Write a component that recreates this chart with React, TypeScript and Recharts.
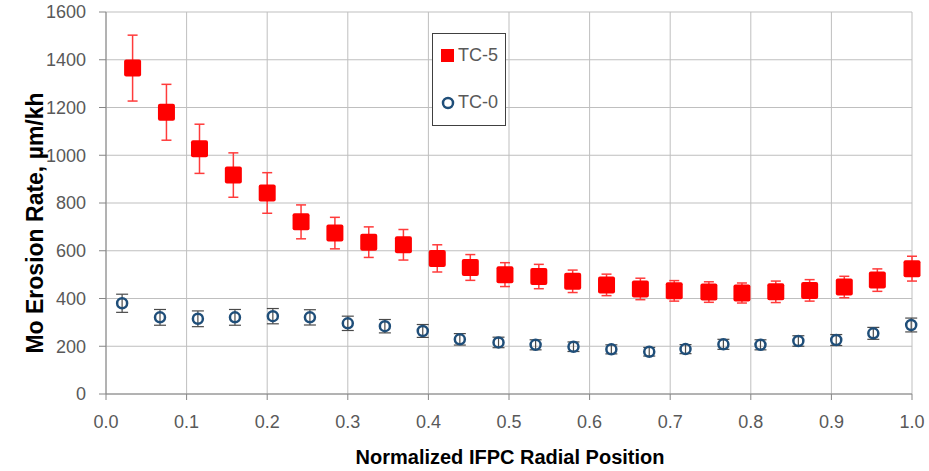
import React from 'react';
import {
  ScatterChart,
  Scatter,
  XAxis,
  YAxis,
  CartesianGrid,
  ErrorBar,
  Legend,
  Label,
} from 'recharts';

// TC-5 series (red squares)
const tc5X = [0.033, 0.075, 0.116, 0.158, 0.2, 0.242, 0.284, 0.326, 0.369, 0.411, 0.452, 0.495,
  0.537, 0.579, 0.621, 0.663, 0.705, 0.748, 0.789, 0.831, 0.873, 0.916, 0.957, 1.0];
const tc5Y = [1365, 1180, 1027, 917, 842, 721, 674, 636, 625, 568, 530, 500,
  492, 472, 457, 440, 432, 427, 423, 428, 434, 448, 477, 525];
const tc5Err = [138, 117, 103, 93, 85, 71, 66, 64, 64, 57, 54, 50,
  51, 47, 45, 45, 43, 43, 42, 45, 45, 45, 47, 52];

// TC-0 series (hollow blue circles)
const tc0X = [0.02, 0.067, 0.114, 0.16, 0.207, 0.253, 0.3, 0.346, 0.393, 0.439, 0.487,
  0.533, 0.58, 0.627, 0.674, 0.719, 0.766, 0.812, 0.859, 0.906, 0.952, 0.999];
const tc0Y = [380, 321, 315, 321, 326, 321, 296, 284, 264, 229, 216,
  206, 198, 187, 177, 188, 208, 206, 222, 226, 254, 289];
const tc0Err = [38, 33, 33, 33, 32, 32, 30, 28, 27, 24, 22,
  21, 20, 19, 18, 19, 21, 21, 22, 23, 25, 29];

// axis ticks
const xTicks = [0, 0.1, 0.2, 0.3, 0.4, 0.5, 0.6, 0.7, 0.8, 0.9, 1.0];
const yTicks = [0, 200, 400, 600, 800, 1000, 1200, 1400, 1600];
const xMinor = Array.from({ length: 41 }, (_, i) => i * 0.025);
const yMinor = Array.from({ length: 33 }, (_, i) => i * 50);

const FONT = '"Liberation Sans", Arial, sans-serif';
const TICK_GRAY = '#595959';
const AXIS_GRAY = '#868686';

const tc5Data = tc5X.map((x, i) => ({ x, y: tc5Y[i], err: tc5Err[i] }));
const tc0Data = tc0X.map((x, i) => ({ x, y: tc0Y[i], err: tc0Err[i] }));

const RedSquare = (p: any) => (
  <rect x={p.cx - 8.5} y={p.cy - 8.5} width={17} height={17} rx={2} fill="#FF0000" />
);

const BlueCircle = (p: any) => (
  <circle cx={p.cx} cy={p.cy} r={5} fill="none" stroke="#1F4E79" strokeWidth={2.5} />
);

const LegendBox = () => (
  <div
    style={{
      width: 74,
      height: 93,
      border: '1px solid #404040',
      background: '#fff',
      boxSizing: 'border-box',
      position: 'relative',
      fontFamily: FONT,
      fontSize: 18,
      color: TICK_GRAY,
    }}
  >
    <div style={{ position: 'absolute', left: 8, top: 15, width: 13, height: 13, background: '#FF0000' }} />
    <div style={{ position: 'absolute', left: 25, top: 11, lineHeight: '20px' }}>TC-5</div>
    <svg style={{ position: 'absolute', left: 8, top: 62 }} width={14} height={14}>
      <circle cx={7} cy={7} r={5} fill="none" stroke="#1F4E79" strokeWidth={2.5} />
    </svg>
    <div style={{ position: 'absolute', left: 25, top: 58, lineHeight: '20px' }}>TC-0</div>
  </div>
);

const YTitle = () => (
  <text
    x={35}
    y={223}
    transform="rotate(-90 35 223)"
    textAnchor="middle"
    dominantBaseline="central"
    fontFamily={FONT}
    fontWeight="bold"
    fontSize={23}
    fill="#000"
  >
    Mo Erosion Rate, µm/kh
  </text>
);

const XTitle = () => (
  <text
    x={510}
    y={457}
    textAnchor="middle"
    dominantBaseline="central"
    fontFamily={FONT}
    fontWeight="bold"
    fontSize={20}
    fill="#000"
  >
    Normalized IFPC Radial Position
  </text>
);

export default function App() {
  return (
    <div style={{ position: 'absolute', left: 0, top: 0, background: '#fff' }}>
      <ScatterChart width={929} height={471} margin={{ top: 12, right: 17, bottom: 0, left: 0 }}>
        <CartesianGrid stroke="#BFBFBF" strokeWidth={1} />
        <XAxis
          type="number"
          dataKey="x"
          domain={[0, 1]}
          ticks={xTicks}
          interval={0}
          tickFormatter={(v: number) => v.toFixed(1)}
          height={77}
          tickSize={6}
          tickMargin={15}
          stroke={AXIS_GRAY}
          tick={{ fill: TICK_GRAY, fontSize: 18, fontFamily: FONT }}
        >
          <Label content={<XTitle />} />
        </XAxis>
        <XAxis xAxisId="minA" type="number" dataKey="x" domain={[0, 1]} ticks={xMinor} interval={0}
          mirror height={0} tickSize={4} tick={false} axisLine={false} stroke={AXIS_GRAY} />
        <XAxis xAxisId="minB" type="number" dataKey="x" domain={[0, 1]} ticks={xMinor} interval={0}
          mirror height={0} tickSize={-4} tick={false} axisLine={false} stroke={AXIS_GRAY} />
        <YAxis
          type="number"
          dataKey="y"
          domain={[0, 1600]}
          ticks={yTicks}
          interval={0}
          width={106}
          tickSize={7}
          tickMargin={13}
          stroke={AXIS_GRAY}
          tick={{ fill: TICK_GRAY, fontSize: 18, fontFamily: FONT }}
        >
          <Label content={<YTitle />} />
        </YAxis>
        <YAxis yAxisId="minA" type="number" dataKey="y" domain={[0, 1600]} ticks={yMinor} interval={0}
          mirror width={0} tickSize={4} tick={false} axisLine={false} stroke={AXIS_GRAY} />
        <YAxis yAxisId="minB" type="number" dataKey="y" domain={[0, 1600]} ticks={yMinor} interval={0}
          mirror width={0} tickSize={-4} tick={false} axisLine={false} stroke={AXIS_GRAY} />
        <Legend
          layout="horizontal"
          verticalAlign="middle"
          align="center"
          content={<LegendBox />}
          wrapperStyle={{ left: 432, top: 33, width: 74, height: 93 }}
        />
        <Scatter name="TC-5" data={tc5Data} shape={RedSquare} isAnimationActive={false}>
          <ErrorBar dataKey="err" direction="y" width={5} stroke="#FF3B3B" strokeWidth={1.5} isAnimationActive={false} />
        </Scatter>
        <Scatter name="TC-0" data={tc0Data} shape={BlueCircle} isAnimationActive={false}>
          <ErrorBar dataKey="err" direction="y" width={6} stroke="#4A4A4A" strokeWidth={1.2} isAnimationActive={false} />
        </Scatter>
      </ScatterChart>
    </div>
  );
}
